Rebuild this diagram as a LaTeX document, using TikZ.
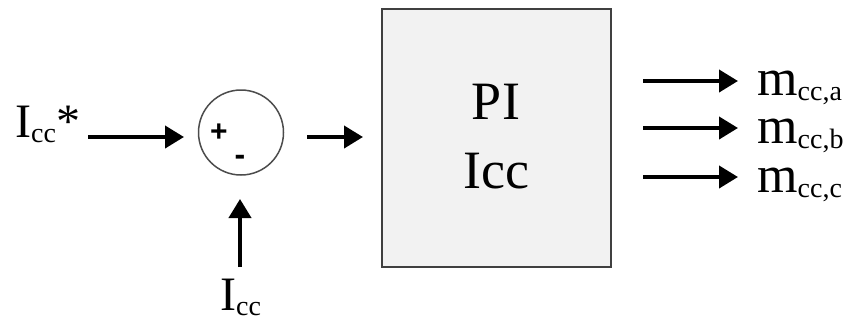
\documentclass[tikz,border=0pt]{standalone}
\usepackage{fontspec}
\setmainfont{Liberation Serif}
\newfontfamily\plusfont{Liberation Sans}
\usetikzlibrary{arrows.meta}
\newcommand{\lowsub}[1]{\raisebox{-5pt}{\fontsize{28}{32}\selectfont #1}}
\begin{document}
\begin{tikzpicture}[x=1pt,y=-1pt,
  sig/.style={line width=4pt,-{Triangle[length=19pt,width=22pt]}},
  lbl/.style={inner sep=0pt,anchor=base west,font=\fontsize{48}{56}\selectfont},
  mlbl/.style={inner sep=0pt,anchor=base west,font=\fontsize{52}{60}\selectfont},
  sgn/.style={inner sep=0pt,font=\plusfont\bfseries}]
\useasboundingbox (0,0) rectangle (849,322);
% PI block
\node[draw=black!75,line width=2.5pt,fill=black!5,minimum width=229pt,minimum height=258pt,inner sep=0pt] (pi) at (496.5,138) {};
\node[inner sep=0pt,anchor=base,font=\fontsize{54}{60}\selectfont] (pit) at (496,119) {PI};
\node[inner sep=0pt,anchor=base,font=\fontsize{54}{60}\selectfont] (icct) at (496,188) {Icc};
% summing junction
\node[draw=black!70,line width=1.5pt,circle,minimum size=85pt,inner sep=0pt] (sum) at (241,132.5) {};
\node[sgn,font=\plusfont\bfseries\fontsize{30}{32}\selectfont] (plus) at (219,133) {+};
\node[sgn,font=\plusfont\bfseries\fontsize{32}{34}\selectfont] (minus) at (240,160) {-};
% labels
\node[lbl] (iref) at (15,137) {I\lowsub{cc}*};
\node[lbl] (imeas) at (220,310) {I\lowsub{cc}};
\node[mlbl] (ma) at (757,95) {m\lowsub{cc,a}};
\node[mlbl] (mb) at (757,143) {m\lowsub{cc,b}};
\node[mlbl] (mc) at (757,192) {m\lowsub{cc,c}};
% arrows
\coordinate (a1s) at (88,137); \coordinate (a1e) at (184,137);
\draw[sig] (a1s) -- (a1e);
\coordinate (a2s) at (307,137); \coordinate (a2e) at (363,137);
\draw[sig] (a2s) -- (a2e);
\coordinate (a3s) at (240,267); \coordinate (a3e) at (240,199);
\draw[sig] (a3s) -- (a3e);
\coordinate (o1s) at (643,81); \coordinate (o1e) at (738,81);
\draw[sig] (o1s) -- (o1e);
\coordinate (o2s) at (643,128); \coordinate (o2e) at (738,128);
\draw[sig] (o2s) -- (o2e);
\coordinate (o3s) at (643,177); \coordinate (o3e) at (738,177);
\draw[sig] (o3s) -- (o3e);
\end{tikzpicture}
\end{document}
